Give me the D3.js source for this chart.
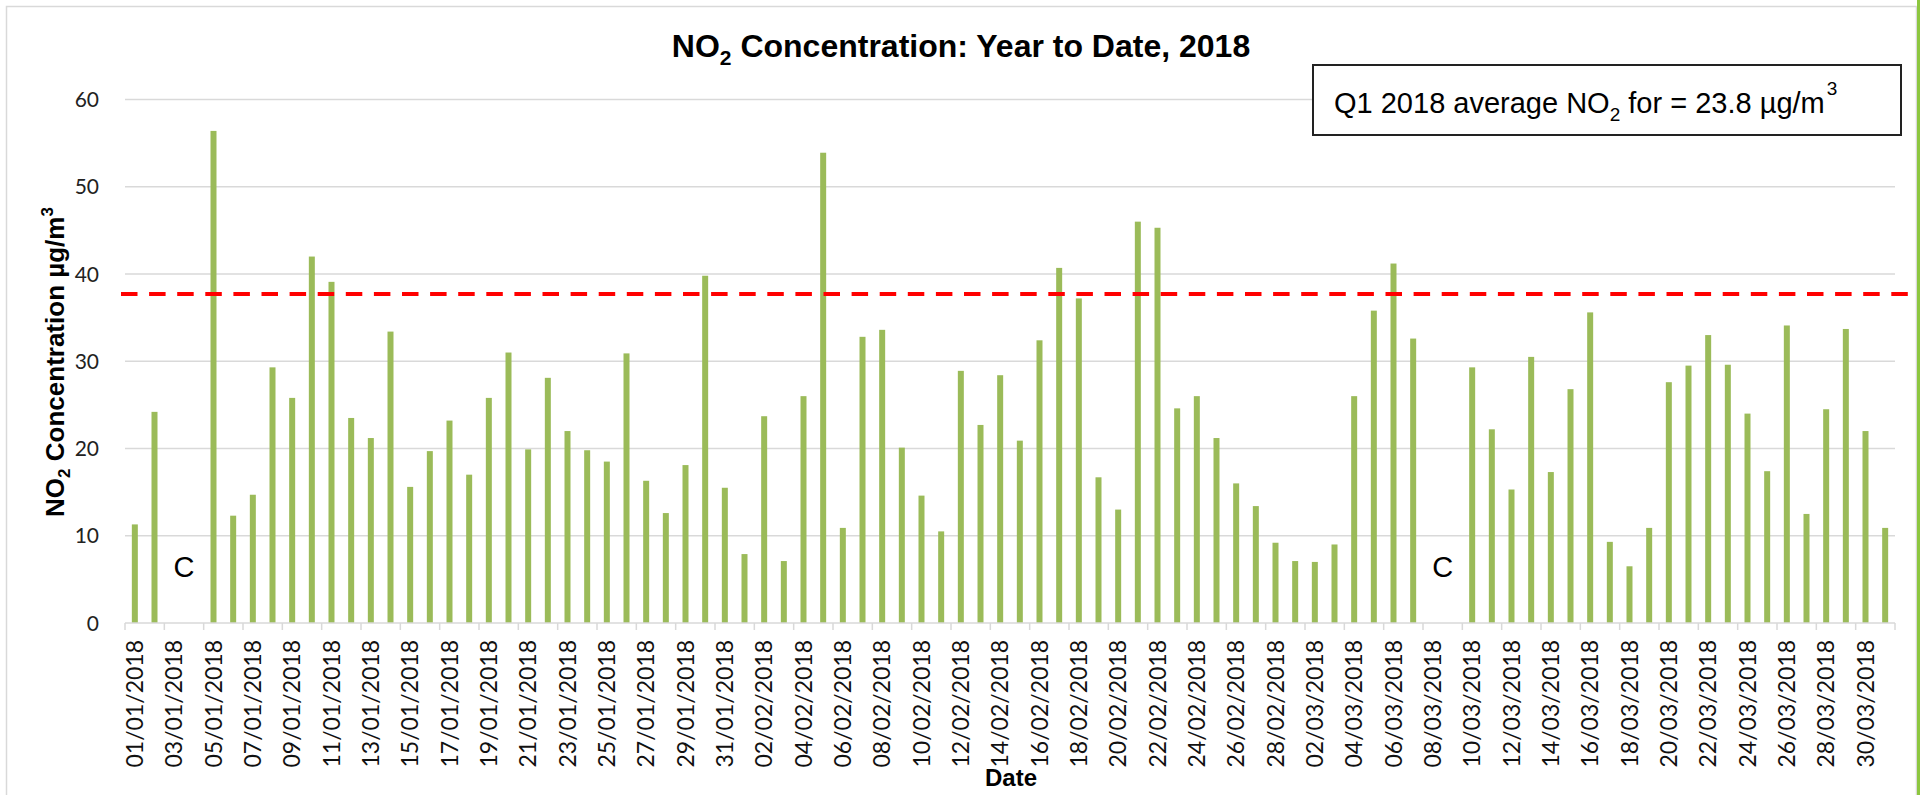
<!DOCTYPE html>
<html>
<head>
<meta charset="utf-8">
<script src="https://cdn.jsdelivr.net/npm/d3@7/dist/d3.min.js"></script>
<style>
  html, body { margin: 0; padding: 0; background: #ffffff; }
  svg { display: block; }
</style>
</head>
<body>
<svg id="chart" width="1924" height="795"></svg>
<script>
// ---------------- DATA ----------------
const categories = [
  "01/01/2018","02/01/2018","03/01/2018","04/01/2018","05/01/2018","06/01/2018","07/01/2018","08/01/2018","09/01/2018","10/01/2018",
  "11/01/2018","12/01/2018","13/01/2018","14/01/2018","15/01/2018","16/01/2018","17/01/2018","18/01/2018","19/01/2018","20/01/2018",
  "21/01/2018","22/01/2018","23/01/2018","24/01/2018","25/01/2018","26/01/2018","27/01/2018","28/01/2018","29/01/2018","30/01/2018",
  "31/01/2018","01/02/2018","02/02/2018","03/02/2018","04/02/2018","05/02/2018","06/02/2018","07/02/2018","08/02/2018","09/02/2018",
  "10/02/2018","11/02/2018","12/02/2018","13/02/2018","14/02/2018","15/02/2018","16/02/2018","17/02/2018","18/02/2018","19/02/2018",
  "20/02/2018","21/02/2018","22/02/2018","23/02/2018","24/02/2018","25/02/2018","26/02/2018","27/02/2018","28/02/2018","01/03/2018",
  "02/03/2018","03/03/2018","04/03/2018","05/03/2018","06/03/2018","07/03/2018","08/03/2018","09/03/2018","10/03/2018","11/03/2018",
  "12/03/2018","13/03/2018","14/03/2018","15/03/2018","16/03/2018","17/03/2018","18/03/2018","19/03/2018","20/03/2018","21/03/2018",
  "22/03/2018","23/03/2018","24/03/2018","25/03/2018","26/03/2018","27/03/2018","28/03/2018","29/03/2018","30/03/2018","31/03/2018"
];

// daily NO2 concentration (µg/m3); null = no data ("C")
const no2Values = [
  11.3, 24.2, null, null, 56.4, 12.3, 14.7, 29.3, 25.8, 42.0,
  39.1, 23.5, 21.2, 33.4, 15.6, 19.7, 23.2, 17.0, 25.8, 31.0,
  19.9, 28.1, 22.0, 19.8, 18.5, 30.9, 16.3, 12.6, 18.1, 39.8,
  15.5, 7.9, 23.7, 7.1, 26.0, 53.9, 10.9, 32.8, 33.6, 20.1,
  14.6, 10.5, 28.9, 22.7, 28.4, 20.9, 32.4, 40.7, 37.2, 16.7,
  13.0, 46.0, 45.3, 24.6, 26.0, 21.2, 16.0, 13.4, 9.2, 7.1,
  7.0, 9.0, 26.0, 35.8, 41.2, 32.6, null, null, 29.3, 22.2,
  15.3, 30.5, 17.3, 26.8, 35.6, 9.3, 6.5, 10.9, 27.6, 29.5,
  33.0, 29.6, 24.0, 17.4, 34.1, 12.5, 24.5, 33.7, 22.0, 10.9
];

const yTicks = [0, 10, 20, 30, 40, 50, 60];
const xTickLabels = categories.filter((d, i) => i % 2 === 0);
const referenceLine = 37.7;
const gapLabels = [["03/01/2018", "04/01/2018"], ["08/03/2018", "09/03/2018"]];
const gapLabelText = "C";
const gapLabelValue = 6.5;
const annotation = { before: "Q1 2018 average NO", sub: "2", after: " for = 23.8 µg/m", sup: "3" };

// ---------------- LAYOUT ----------------
const svg = d3.select("#chart");
const plotLeft = 125, plotRight = 1895, plotTop = 99.5, plotBottom = 623;

const x = d3.scaleBand()
  .domain(categories)
  .range([plotLeft, plotRight])
  .paddingInner(0.695)
  .paddingOuter(0.3475);

const y = d3.scaleLinear().domain([0, 60]).range([plotBottom, plotTop]);

const barColor = "#9BBB59";
const gridColor = "#D9D9D9";

// outer chart border
svg.append("rect")
  .attr("x", 6.5).attr("y", 6.5)
  .attr("width", 1910).attr("height", 800)
  .attr("fill", "none").attr("stroke", gridColor).attr("stroke-width", 1.5);

// green edge line on the right
svg.append("line")
  .attr("x1", 1918.5).attr("x2", 1918.5).attr("y1", 0).attr("y2", 795)
  .attr("stroke", "#8DC63F").attr("stroke-width", 3);

// gridlines
svg.append("g").selectAll("line")
  .data(yTicks.filter(t => t > 0))
  .join("line")
  .attr("x1", plotLeft).attr("x2", plotRight)
  .attr("y1", d => y(d)).attr("y2", d => y(d))
  .attr("stroke", gridColor).attr("stroke-width", 1.5);

// y tick labels
svg.append("g").selectAll("text")
  .data(yTicks)
  .join("text")
  .attr("x", 99).attr("y", d => y(d))
  .attr("dy", "0.36em")
  .attr("text-anchor", "end")
  .attr("font-family", "Lato, 'Liberation Sans', sans-serif")
  .attr("font-size", 21)
  .attr("fill", "#222")
  .text(d => d);

// bars
svg.append("g").selectAll("rect")
  .data(categories.map((c, i) => ({ c, v: no2Values[i] })).filter(d => d.v !== null))
  .join("rect")
  .attr("x", d => x(d.c))
  .attr("width", x.bandwidth())
  .attr("y", d => y(d.v))
  .attr("height", d => y(0) - y(d.v))
  .attr("fill", barColor);

// x axis line + ticks
const xAxisG = svg.append("g");
xAxisG.append("line")
  .attr("x1", plotLeft).attr("x2", plotRight)
  .attr("y1", y(0)).attr("y2", y(0))
  .attr("stroke", gridColor).attr("stroke-width", 1.5);
const step = x.step();
const boundaries = d3.range(0, categories.length + 1, 2);
xAxisG.selectAll("line.tick")
  .data(boundaries)
  .join("line")
  .attr("class", "tick")
  .attr("x1", k => plotLeft + k * step).attr("x2", k => plotLeft + k * step)
  .attr("y1", y(0)).attr("y2", y(0) + 7)
  .attr("stroke", gridColor).attr("stroke-width", 1.5);

// x tick labels (rotated)
svg.append("g").selectAll("text")
  .data(xTickLabels)
  .join("text")
  .attr("transform", d => `translate(${x(d) + x.bandwidth() / 2},${plotBottom + 17}) rotate(-90)`)
  .attr("dy", "0.36em")
  .attr("text-anchor", "end")
  .attr("font-family", "Lato, 'Liberation Sans', sans-serif")
  .attr("font-size", 23)
  .attr("fill", "#111")
  .text(d => d);

// reference dashed line
svg.append("line")
  .attr("x1", 121).attr("x2", 1916)
  .attr("y1", y(referenceLine)).attr("y2", y(referenceLine))
  .attr("stroke", "#FF0000").attr("stroke-width", 4)
  .attr("stroke-dasharray", "16.5,11.6");

// "C" labels for missing data
svg.append("g").selectAll("text")
  .data(gapLabels)
  .join("text")
  .attr("x", d => (x(d[0]) + x(d[1])) / 2 + x.bandwidth() / 2)
  .attr("y", y(gapLabelValue))
  .attr("dy", "0.36em")
  .attr("text-anchor", "middle")
  .attr("font-family", "'Liberation Sans', Arial, sans-serif")
  .attr("font-size", 29)
  .attr("fill", "#000")
  .text(gapLabelText);

// title
const title = svg.append("text")
  .attr("x", 961).attr("y", 57)
  .attr("text-anchor", "middle")
  .attr("font-family", "'Liberation Sans', Arial, sans-serif")
  .attr("font-weight", "bold")
  .attr("font-size", 32)
  .attr("fill", "#000");
title.append("tspan").text("NO");
title.append("tspan").attr("font-size", 21).attr("dy", 8).text("2");
title.append("tspan").attr("dy", -8).text(" Concentration: Year to Date, 2018");

// y axis title
const yTitle = svg.append("text")
  .attr("transform", "translate(64,362) rotate(-90)")
  .attr("text-anchor", "middle")
  .attr("font-family", "'Liberation Sans', Arial, sans-serif")
  .attr("font-weight", "bold")
  .attr("font-size", 26)
  .attr("fill", "#000");
yTitle.append("tspan").text("NO");
yTitle.append("tspan").attr("font-size", 17).attr("dy", 6).text("2");
yTitle.append("tspan").attr("dy", -6).text(" Concentration µg/m");
yTitle.append("tspan").attr("font-size", 17).attr("dy", -11).text("3");

// x axis title
svg.append("text")
  .attr("x", 1011).attr("y", 786)
  .attr("text-anchor", "middle")
  .attr("font-family", "'Liberation Sans', Arial, sans-serif")
  .attr("font-weight", "bold")
  .attr("font-size", 24)
  .attr("fill", "#000")
  .text("Date");

// annotation box
svg.append("rect")
  .attr("x", 1313).attr("y", 65)
  .attr("width", 588).attr("height", 70)
  .attr("fill", "#fff").attr("stroke", "#222").attr("stroke-width", 2);
const ann = svg.append("text")
  .attr("x", 1334).attr("y", 113)
  .attr("font-family", "'Liberation Sans', Arial, sans-serif")
  .attr("font-size", 29)
  .attr("fill", "#000");
ann.append("tspan").text(annotation.before);
ann.append("tspan").attr("font-size", 19).attr("dy", 8).text(annotation.sub);
ann.append("tspan").attr("dy", -8).text(annotation.after);
ann.append("tspan").attr("font-size", 19).attr("dx", 2).attr("dy", -18).text(annotation.sup);
</script>
</body>
</html>
